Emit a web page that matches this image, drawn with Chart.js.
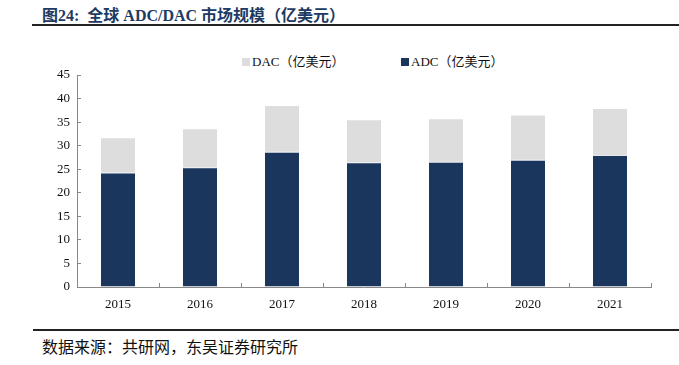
<!DOCTYPE html>
<html>
<head>
<meta charset="utf-8">
<script src="https://cdn.jsdelivr.net/npm/chart.js@4"></script>
<style>
  body { margin: 0; width: 679px; height: 365px; background: #fff; position: relative; overflow: hidden; }
  #title {
    position: absolute; left: 42px; top: 2px;
    font: bold 16px "Liberation Serif", "Noto Sans CJK SC", serif;
    color: #1d3a63; white-space: nowrap;
  }
  #ruleTop { position: absolute; left: 32px; right: 0; top: 24px; height: 2px; background: #222; }
  #ruleBottom { position: absolute; left: 33px; right: 0; top: 329px; height: 2px; background: #222; }
  #source {
    position: absolute; left: 42px; top: 334px;
    font: 16px "Noto Sans CJK SC", serif; color: #111; white-space: nowrap;
  }
  #wrap { position: absolute; left: 0; top: 40px; width: 679px; height: 280px; }
  #legend {
    position: absolute; top: 53px; left: 0; width: 679px; height: 18px;
    font: 13px "Liberation Serif", "Noto Sans CJK SC", serif; color: #111;
  }
  #legend .item { position: absolute; top: 0; white-space: nowrap; line-height: 18px; }
  #legend .box { display: inline-block; width: 8px; height: 8px; margin-right: 2px; vertical-align: 0px; }
</style>
</head>
<body>
<div id="title">图24:&nbsp;&nbsp;全球 ADC/DAC 市场规模（亿美元）</div>
<div id="ruleTop"></div>
<div id="legend"></div>
<div id="wrap"><canvas id="marketChart"></canvas></div>
<div id="ruleBottom"></div>
<div id="source">数据来源：共研网，东吴证券研究所</div>

<script>
// ADC/DAC market size, 100M USD
const years = ["2015", "2016", "2017", "2018", "2019", "2020", "2021"];
const adcValues = [24.3, 25.4, 28.7, 26.5, 26.6, 27.0, 28.0];
const dacValues = [7.3, 8.1, 9.7, 8.9, 9.0, 9.4, 9.8];
const yTicks = [0, 5, 10, 15, 20, 25, 30, 35, 40, 45];

const serif = '"Liberation Serif", "Noto Sans CJK SC", serif';

const ctx = document.getElementById("marketChart").getContext("2d");

const chart = new Chart(ctx, {
  type: "bar",
  data: {
    labels: years,
    datasets: [
      {
        label: "ADC（亿美元）",
        data: adcValues,
        backgroundColor: "#1a365d",
        borderColor: "#e6e9ee",
        borderWidth: { top: 1 },
        borderSkipped: false
      },
      {
        label: "DAC（亿美元）",
        data: dacValues,
        backgroundColor: "#dddddd"
      }
    ]
  },
  options: {
    responsive: true,
    maintainAspectRatio: false,
    animation: false,
    layout: { padding: { left: 37, right: 28, top: 35, bottom: 0 } },
    datasets: { bar: { categoryPercentage: 1, barPercentage: 0.415 } },
    plugins: {
      tooltip: { enabled: false },
      legend: { display: false }
    },
    scales: {
      x: {
        stacked: true,
        afterFit(scale) { scale.height = 33; },
        grid: { display: true, drawOnChartArea: false, tickLength: -4, color: "#888", offset: true },
        border: { color: "#888" },
        ticks: { color: "#111", font: { family: serif, size: 13 }, padding: 14 }
      },
      y: {
        stacked: true,
        min: 0,
        max: 45,
        afterBuildTicks(scale) { scale.ticks = yTicks.map(v => ({ value: v })); },
        afterFit(scale) { scale.width = 40; },
        grid: { display: true, drawOnChartArea: false, tickLength: -4, color: "#888" },
        border: { color: "#888" },
        ticks: { color: "#111", font: { family: serif, size: 13 }, padding: 11 }
      }
    }
  }
});

// legend: DAC first, then ADC (reverse of stacking order)
const legendEl = document.getElementById("legend");
const legendX = [242, 401];
chart.data.datasets.slice().reverse().forEach((ds, i) => {
  const item = document.createElement("span");
  item.className = "item";
  item.style.left = legendX[i] + "px";
  item.innerHTML = `<span class="box" style="background:${ds.backgroundColor}"></span>${ds.label}`;
  legendEl.appendChild(item);
});
</script>
</body>
</html>
